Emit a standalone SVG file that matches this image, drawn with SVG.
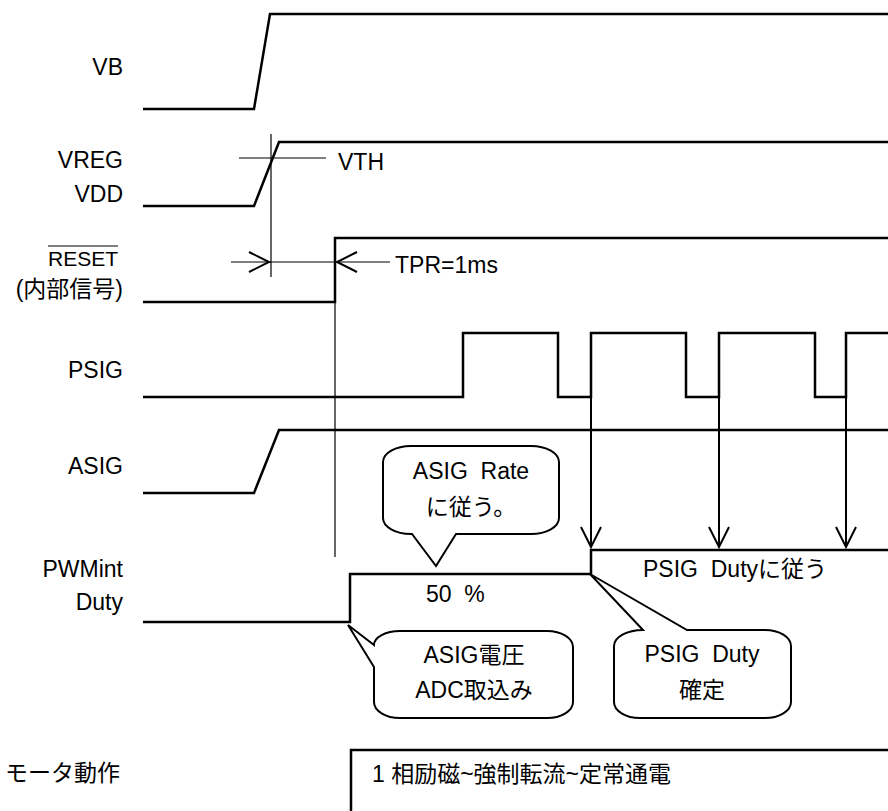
<svg xmlns="http://www.w3.org/2000/svg" width="888" height="811" viewBox="0 0 888 811">
<style>
text{font-family:"Liberation Sans","Noto Sans CJK JP",sans-serif;font-size:23px;fill:#000;white-space:pre}
.lbl{text-anchor:end}
.mid{text-anchor:middle}
.sig{fill:none;stroke:#000;stroke-width:2.5;stroke-linejoin:miter}
.thin{fill:none;stroke:#000;stroke-width:1.2}
.arr{fill:none;stroke:#000;stroke-width:2}
.call{fill:#fff;stroke:#000;stroke-width:2;stroke-linejoin:miter}
</style>
<rect width="888" height="811" fill="#fff"/>
<g id="labels">
<text class="lbl" x="123" y="75">VB</text>
<text class="lbl" x="123" y="168">VREG</text>
<text class="lbl" x="123" y="202">VDD</text>
<text class="lbl" x="118" y="266" style="font-size:21px">RESET</text>
<line x1="48" y1="246" x2="118" y2="246" stroke="#000" stroke-width="1.2"/>
<text class="lbl" x="123" y="297">(内部信号)</text>
<text class="lbl" x="123" y="378">PSIG</text>
<text class="lbl" x="123" y="474">ASIG</text>
<text class="lbl" x="123" y="577">PWMint</text>
<text class="lbl" x="123" y="610">Duty</text>
<text x="5" y="781">モータ動作</text>
</g>
<g id="signals">
<path id="VB" class="sig" d="M143,109 H254 L270,14 H888"/>
<path id="VREG" class="sig" d="M143,206 H254 L279,142 H888"/>
<path id="RESET" class="sig" d="M143,302 H335 V238 H888"/>
<path id="PSIG" class="sig" d="M143,397 H463 V333 H558 V397 H591 V333 H686 V397 H719 V333 H815 V397 H846 V333 H888"/>
<path id="ASIG" class="sig" d="M143,493 H254 L279,430 H888"/>
<path id="PWM" class="sig" d="M143,622 H350 V574 H591 V550 H888"/>
<path id="motor" class="sig" d="M351,811 V750 H888"/>
</g>
<g id="connectors">
<path class="thin" d="M239,158 H326"/>
<path class="thin" d="M271,134 V277"/>
<path class="thin" d="M335,302 V557"/>
<path class="thin" d="M231,262 H390"/>
<path class="arr" d="M249,252 L269,262 L249,272"/>
<path class="arr" d="M357,252 L337,262 L357,272"/>
<path class="arr" d="M591,397 V547 M581,527 L591,547 L601,527"/>
<path class="arr" d="M719,397 V547 M709,527 L719,547 L729,527"/>
<path class="arr" d="M846,397 V547 M836,527 L846,547 L856,527"/>
</g>
<g id="annotations">
<text x="338" y="170">VTH</text>
<text x="395" y="273">TPR=1ms</text>
<text x="426" y="602">50  %</text>
<text x="643" y="577">PSIG  Dutyに従う</text>
<text x="372" y="782">1 相励磁~強制転流~定常通電</text>
</g>
<g id="callout-rate">
<path class="call" d="M411,446 H531 A28 16 0 0 1 559,462 V518 A28 16 0 0 1 531,534 H456 L436,566 L412,534 H411 A28 16 0 0 1 383,518 V462 A28 16 0 0 1 411,446 Z"/>
<text class="mid" x="471" y="479">ASIG  Rate</text>
<text class="mid" x="471" y="515">に従う。</text>
</g>
<g id="callout-adc">
<path class="call" d="M400,631 H547 A26 16 0 0 1 573,647 V702 A26 16 0 0 1 547,718 H400 A26 16 0 0 1 374,702 V667 L348,625 L374,645 A26 14 0 0 1 400,631 Z"/>
<text class="mid" x="474" y="663">ASIG電圧</text>
<text class="mid" x="474" y="698">ADC取込み</text>
</g>
<g id="callout-duty">
<path class="call" d="M643,630 L590,574 L687,630 H765 A26 16 0 0 1 791,646 V702 A26 16 0 0 1 765,718 H640 A26 16 0 0 1 614,702 V646 A29 16 0 0 1 643,630 Z"/>
<text class="mid" x="702" y="662">PSIG  Duty</text>
<text class="mid" x="702" y="698">確定</text>
</g>
</svg>
